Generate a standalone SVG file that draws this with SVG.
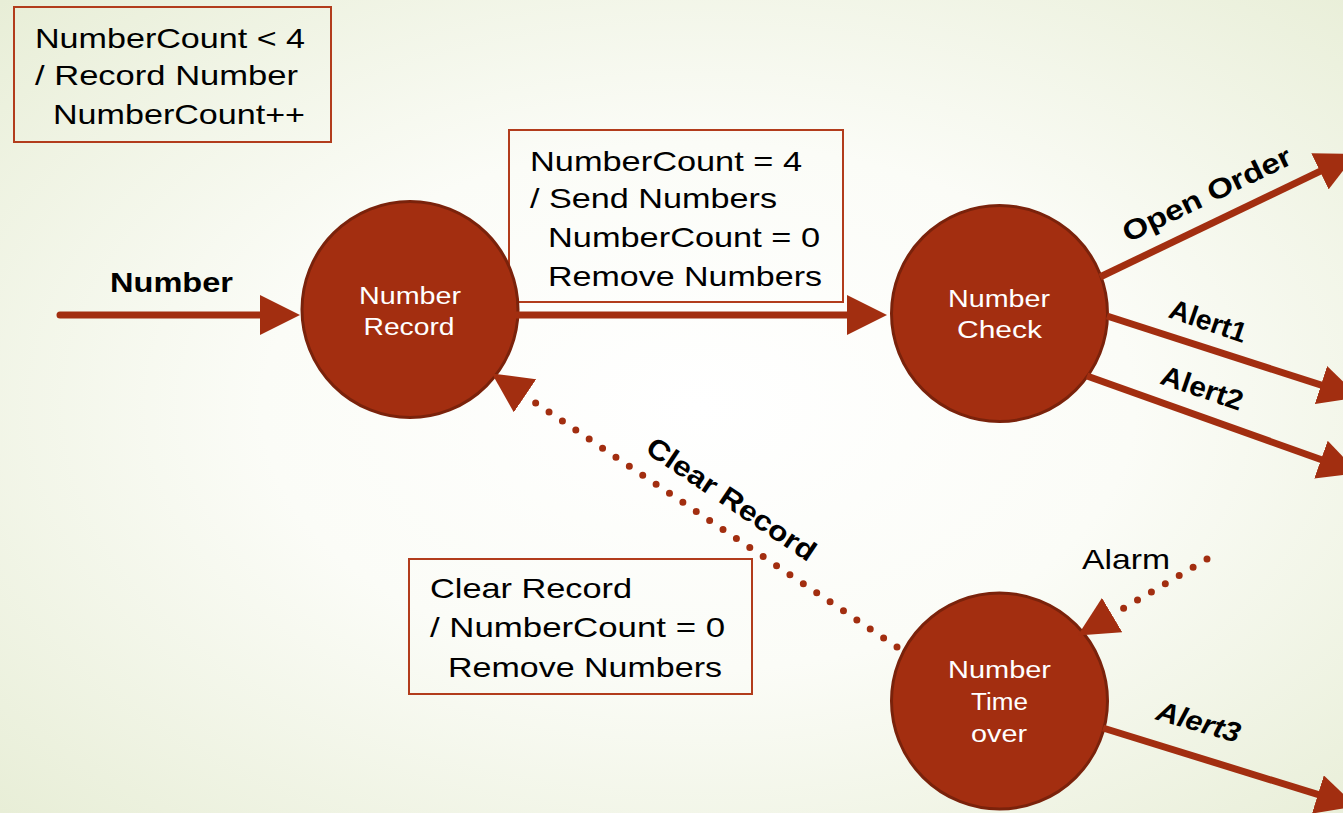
<svg xmlns="http://www.w3.org/2000/svg" width="1343" height="813" viewBox="0 0 1343 813">
<defs>
<radialGradient id="bg" cx="52%" cy="50%" r="72%">
<stop offset="0" stop-color="#ffffff"/>
<stop offset="0.45" stop-color="#fbfcf7"/>
<stop offset="1" stop-color="#e8eed7"/>
</radialGradient>
<marker id="arrow" markerUnits="userSpaceOnUse" markerWidth="40" markerHeight="40" viewBox="0 0 40 40" refX="20" refY="20" orient="auto">
<path d="M0,0 L40,20 L0,40 z" fill="#a22e10"/>
</marker>
<marker id="dotarrow" markerUnits="userSpaceOnUse" markerWidth="40" markerHeight="40" viewBox="0 0 40 40" refX="-12" refY="20" orient="auto">
<path d="M0,0 L40,20 L0,40 z" fill="#a22e10"/>
</marker>
<style>
.note{fill:none;stroke:#b23c1c;stroke-width:2}
.nt{font-family:"Liberation Sans",Arial,sans-serif;font-size:28px;fill:#000}
.node{fill:#a32e10;stroke:#7a220b;stroke-width:3}
.nl{font-family:"Liberation Sans",Arial,sans-serif;font-size:23px;fill:#ffffff;text-anchor:middle}
.solid{fill:none;stroke:#a22e10;stroke-width:7;marker-end:url(#arrow)}
.dotted{fill:none;stroke:#a22e10;stroke-width:7;stroke-linecap:round;stroke-dasharray:0 16.15;marker-end:url(#dotarrow)}
.lbl{font-family:"Liberation Sans",Arial,sans-serif;font-size:28px;font-weight:bold;fill:#000}
</style>
</defs>
<rect x="0" y="0" width="1343" height="813" fill="url(#bg)"/>

<g id="note-record">
<rect class="note" x="14" y="7" width="317" height="135"/>
<text class="nt" x="35" y="48" textLength="270" lengthAdjust="spacingAndGlyphs">NumberCount &lt; 4</text>
<text class="nt" x="35" y="85" textLength="263" lengthAdjust="spacingAndGlyphs">/ Record Number</text>
<text class="nt" x="53" y="124" textLength="252" lengthAdjust="spacingAndGlyphs">NumberCount++</text>
</g>

<g id="note-send">
<rect class="note" x="509" y="130" width="334" height="172"/>
<text class="nt" x="530" y="171" textLength="272" lengthAdjust="spacingAndGlyphs">NumberCount = 4</text>
<text class="nt" x="530" y="208" textLength="247" lengthAdjust="spacingAndGlyphs">/ Send Numbers</text>
<text class="nt" x="548" y="247" textLength="272" lengthAdjust="spacingAndGlyphs">NumberCount = 0</text>
<text class="nt" x="548" y="286" textLength="274" lengthAdjust="spacingAndGlyphs">Remove Numbers</text>
</g>

<g id="note-clear">
<rect class="note" x="409" y="559" width="343" height="135"/>
<text class="nt" x="430" y="598" textLength="202" lengthAdjust="spacingAndGlyphs">Clear Record</text>
<text class="nt" x="430" y="637" textLength="295" lengthAdjust="spacingAndGlyphs">/ NumberCount = 0</text>
<text class="nt" x="448" y="677" textLength="274" lengthAdjust="spacingAndGlyphs">Remove Numbers</text>
</g>

<g id="node-record">
<circle class="node" cx="410" cy="309.5" r="108"/>
<text class="nl" x="410" y="304" textLength="102" lengthAdjust="spacingAndGlyphs">Number</text>
<text class="nl" x="409" y="335" textLength="91" lengthAdjust="spacingAndGlyphs">Record</text>
</g>

<g id="node-check">
<circle class="node" cx="999.5" cy="313.5" r="108"/>
<text class="nl" x="999" y="307" textLength="102" lengthAdjust="spacingAndGlyphs">Number</text>
<text class="nl" x="999.5" y="338" textLength="85" lengthAdjust="spacingAndGlyphs">Check</text>
</g>

<g id="node-timeover">
<circle class="node" cx="999.5" cy="701" r="108"/>
<text class="nl" x="999.5" y="678" textLength="103" lengthAdjust="spacingAndGlyphs">Number</text>
<text class="nl" x="999.5" y="710" textLength="57" lengthAdjust="spacingAndGlyphs">Time</text>
<text class="nl" x="999" y="742" textLength="56" lengthAdjust="spacingAndGlyphs">over</text>
</g>

<g id="connectors">
<path class="solid" d="M60,315 L280,315" stroke-linecap="round"/>
<path class="solid" d="M514,315 L867,315"/>
<path class="solid" d="M1100,277 L1338,162.7"/>
<path class="solid" d="M1107,316 L1340,391.2"/>
<path class="solid" d="M1087,376 L1339.8,466.3"/>
<path class="solid" d="M1103,728 L1337,800.4"/>
<path class="dotted" d="M897,647 L535,402.5"/>
<path class="dotted" d="M1207,559 L1122.5,609"/>
</g>

<g id="labels">
<text class="lbl" x="110" y="292" textLength="123" lengthAdjust="spacingAndGlyphs">Number</text>
<text class="lbl" text-anchor="middle" transform="translate(1211,203) rotate(-25.6)" textLength="184" lengthAdjust="spacingAndGlyphs">Open Order</text>
<text class="lbl" text-anchor="middle" transform="translate(1205,330) rotate(19)" textLength="80" lengthAdjust="spacingAndGlyphs">Alert1</text>
<text class="lbl" text-anchor="middle" transform="translate(1199,397) rotate(19)" textLength="85" lengthAdjust="spacingAndGlyphs">Alert2</text>
<text class="lbl" text-anchor="middle" font-style="italic" transform="translate(1196,731) rotate(16)" textLength="86" lengthAdjust="spacingAndGlyphs">Alert3</text>
<text class="lbl" text-anchor="middle" transform="translate(726,507) rotate(34)" textLength="198" lengthAdjust="spacingAndGlyphs">Clear Record</text>
<text class="nt" x="1082" y="569" textLength="88" lengthAdjust="spacingAndGlyphs">Alarm</text>
</g>
</svg>
